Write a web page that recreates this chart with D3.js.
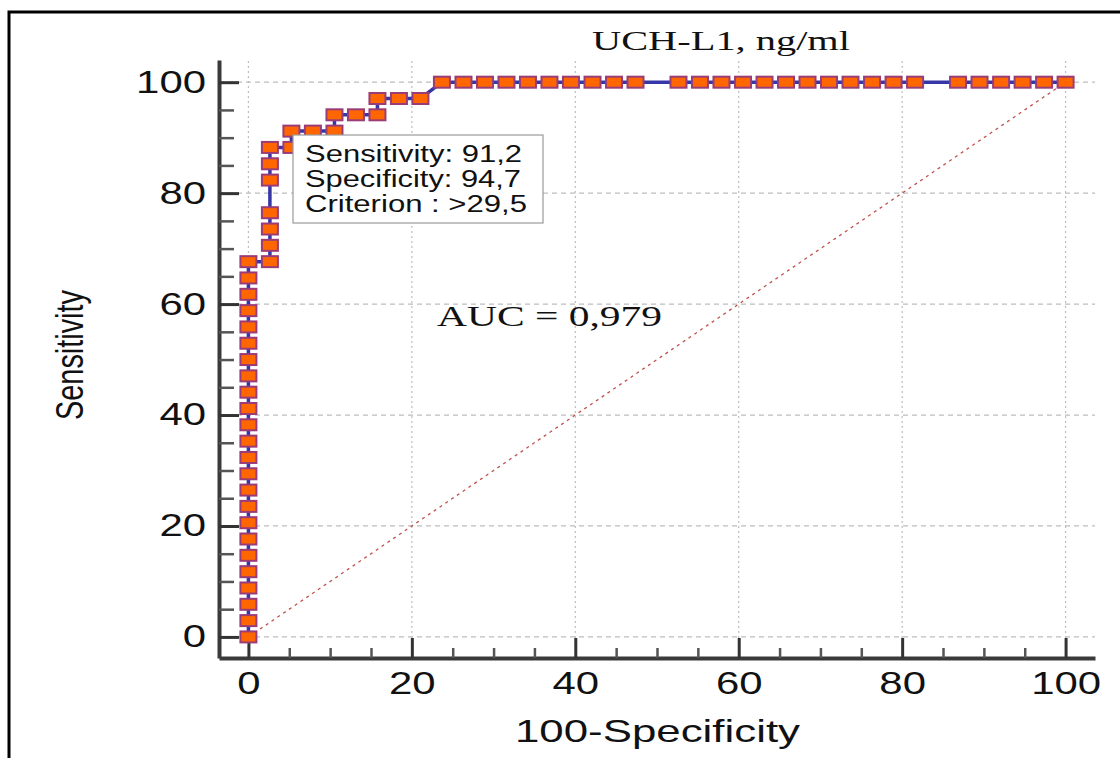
<!DOCTYPE html>
<html><head><meta charset="utf-8">
<script src="https://cdn.jsdelivr.net/npm/d3@7"></script>
<style>body{margin:0;background:#fff;overflow:hidden} svg{display:block}</style>
</head><body><svg id="c" width="1120" height="758"></svg>
<script>
// ---- data ----
const fpr = [
  0,0,0,0,0,0,0,0,0,0,0,0,0,0,0,0,0,0,0,0,0,0,0,0,
  2.63,2.63,2.63,2.63,2.63,2.63,2.63,
  5.26,5.26,7.89,10.53,10.53,13.16,15.79,15.79,18.42,21.05,
  23.68,26.32,28.95,31.58,34.21,36.84,39.47,42.11,44.74,47.37,
  52.63,55.26,57.89,60.53,63.16,65.79,68.42,71.05,73.68,76.32,78.95,81.58,
  86.84,89.47,92.11,94.74,97.37,100
];
const sens = [
  0,2.94,5.88,8.82,11.76,14.71,17.65,20.59,23.53,26.47,29.41,32.35,35.29,38.24,41.18,44.12,47.06,50,52.94,55.88,58.82,61.76,64.71,67.65,
  67.65,70.59,73.53,76.47,82.35,85.29,88.24,
  88.24,91.18,91.18,91.18,94.12,94.12,94.12,97.06,97.06,97.06,
  100,100,100,100,100,100,100,100,100,100,
  100,100,100,100,100,100,100,100,100,100,100,100,
  100,100,100,100,100,100
];
const xMajorTicks = [0,20,40,60,80,100];
const yMajorTicks = [0,20,40,60,80,100];
const minorTicks = [5,10,15,25,30,35,45,50,55,65,70,75,85,90,95];
const diagonalX = [0,100];
const diagonalY = [0,100];
const titleText = "UCH-L1, ng/ml";
const xLabel = "100-Specificity";
const yLabel = "Sensitivity";
const boxLines = ["Sensitivity: 91,2","Specificity: 94,7","Criterion : >29,5"];
const aucText = "AUC = 0,979";

// ---- drawing ----
const svg = d3.select("#c");
const x = d3.scaleLinear().domain([-3.6,103.6]).range([219,1095]);
const y = d3.scaleLinear().domain([-3.8,104]).range([658,60]);
const SANS = "'Liberation Sans', Arial, sans-serif";
const SERIF = "'Liberation Serif', 'Times New Roman', serif";

// outer frame
svg.append("rect").attr("x",9).attr("y",12).attr("width",1140).attr("height",780)
  .attr("fill","none").attr("stroke","#000").attr("stroke-width",3);

// grid
svg.append("g").selectAll("line").data(yMajorTicks).join("line")
  .attr("x1",x.range()[0]).attr("x2",x.range()[1])
  .attr("y1",d=>y(d)).attr("y2",d=>y(d))
  .attr("stroke","#bdbdbd").attr("stroke-width",1.2).attr("stroke-dasharray","5,4");
svg.append("g").selectAll("line").data(xMajorTicks).join("line")
  .attr("x1",d=>x(d)).attr("x2",d=>x(d))
  .attr("y1",y.range()[0]).attr("y2",y.range()[1])
  .attr("stroke","#bdbdbd").attr("stroke-width",1.2).attr("stroke-dasharray","2,3");

// diagonal reference
svg.append("line")
  .attr("x1",x(diagonalX[0])).attr("y1",y(diagonalY[0]))
  .attr("x2",x(diagonalX[1])).attr("y2",y(diagonalY[1]))
  .attr("stroke","#c0504d").attr("stroke-width",1.3).attr("stroke-dasharray","3,4");

// axes
const gx = svg.append("g").attr("transform",`translate(0,${y.range()[0]})`)
  .call(d3.axisBottom(x).tickValues(xMajorTicks).tickSizeInner(-20).tickSizeOuter(0).tickPadding(14));
const gxm = svg.append("g").attr("transform",`translate(0,${y.range()[0]})`)
  .call(d3.axisBottom(x).tickValues(minorTicks).tickSizeInner(-10).tickSizeOuter(0).tickFormat(""));
const gy = svg.append("g").attr("transform",`translate(${x.range()[0]},0)`)
  .call(d3.axisLeft(y).tickValues(yMajorTicks).tickSizeInner(-20).tickSizeOuter(0).tickPadding(13));
const gym = svg.append("g").attr("transform",`translate(${x.range()[0]},0)`)
  .call(d3.axisLeft(y).tickValues(minorTicks).tickSizeInner(-15).tickSizeOuter(0).tickFormat(""));
[gxm,gym].forEach(g=>{
  g.select(".domain").remove();
  g.selectAll(".tick line").attr("stroke","#555").attr("stroke-width",2.5);
});
[gx,gy].forEach(g=>{
  g.select(".domain").attr("stroke","#3a3a3a").attr("stroke-width",4);
  g.selectAll(".tick line").attr("stroke","#333").attr("stroke-width",3);
  g.selectAll(".tick text").attr("fill","#111").attr("font-family",SANS).attr("font-size",31)
    .attr("textLength",d=>String(d).length*23.3).attr("lengthAdjust","spacingAndGlyphs");
});

// ROC line
const pts = fpr.map((f,i)=>[f,sens[i]]);
svg.append("path").datum(pts)
  .attr("d",d3.line().x(d=>x(d[0])).y(d=>y(d[1])))
  .attr("fill","none").attr("stroke","#3636a6").attr("stroke-width",3.5);

// markers
svg.append("g").selectAll("rect").data(pts).join("rect")
  .attr("x",d=>x(d[0])-8).attr("y",d=>y(d[1])-5.5)
  .attr("width",16).attr("height",11)
  .attr("fill","#ff6600").attr("stroke","#9a3c78").attr("stroke-width",2);

// criterion box
svg.append("rect").attr("x",293).attr("y",135).attr("width",250).attr("height",88)
  .attr("fill","#fff").attr("stroke","#9a9a9a").attr("stroke-width",1.2);
const boxW = [217,216,222];
svg.append("g").selectAll("text").data(boxLines).join("text")
  .attr("x",305).attr("y",(d,i)=>161.5+i*25)
  .attr("font-family",SANS).attr("font-size",23).attr("fill","#111")
  .attr("textLength",(d,i)=>boxW[i]).attr("lengthAdjust","spacingAndGlyphs")
  .text(d=>d);

// AUC
svg.append("text").attr("x",437).attr("y",326)
  .attr("font-family",SERIF).attr("font-size",29).attr("fill","#111")
  .attr("textLength",225).attr("lengthAdjust","spacingAndGlyphs").text(aucText);

// title
svg.append("text").attr("x",592).attr("y",50)
  .attr("font-family",SERIF).attr("font-size",27).attr("fill","#111")
  .attr("textLength",258).attr("lengthAdjust","spacingAndGlyphs").text(titleText);

// axis titles
svg.append("text").attr("x",515).attr("y",742)
  .attr("font-family",SANS).attr("font-size",32).attr("fill","#111")
  .attr("textLength",285).attr("lengthAdjust","spacingAndGlyphs").text(xLabel);
svg.append("text").attr("transform","translate(83,355) scale(1.35,1) rotate(-90)")
  .attr("text-anchor","middle")
  .attr("font-family",SANS).attr("font-size",29).attr("fill","#111")
  .attr("textLength",130).attr("lengthAdjust","spacingAndGlyphs").text(yLabel);
</script>
</body></html>
